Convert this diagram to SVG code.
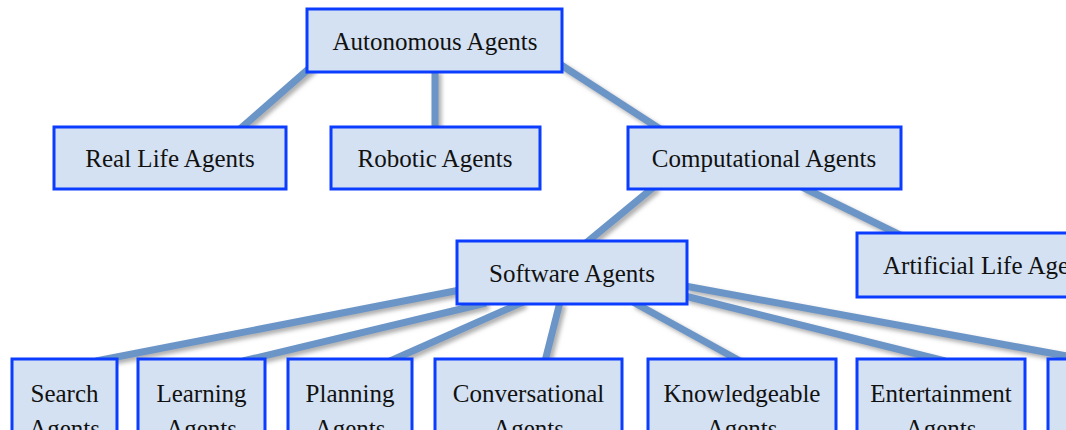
<svg xmlns="http://www.w3.org/2000/svg" width="1066" height="430" viewBox="0 0 1066 430">
<defs>
<filter id="sh" x="-20%" y="-20%" width="140%" height="160%">
<feDropShadow dx="3" dy="3" stdDeviation="2" flood-color="#777" flood-opacity="0.6"/>
</filter>
</defs>
<style>
.box{fill:#d4e1f2;stroke:#0a3dff;stroke-width:3}
.lbl{font-family:"Liberation Serif","Times New Roman",serif;font-size:25px;fill:#111;text-anchor:middle}
.ln{stroke:#6b95c6;stroke-width:7;fill:none;stroke-linecap:butt}
</style>
<rect width="1066" height="430" fill="#fff"/>
<g id="connectors" filter="url(#sh)">
<line class="ln" x1="312" y1="66" x2="240" y2="129"/>
<line class="ln" x1="435" y1="70" x2="435" y2="129"/>
<line class="ln" x1="558" y1="63" x2="660" y2="129"/>
<line class="ln" x1="655" y1="186" x2="586" y2="243"/>
<line class="ln" x1="802" y1="187" x2="900" y2="235"/>
<line class="ln" x1="460" y1="290" x2="96" y2="361"/>
<line class="ln" x1="486" y1="303" x2="243" y2="361"/>
<line class="ln" x1="523" y1="302" x2="390" y2="361"/>
<line class="ln" x1="560" y1="302" x2="545" y2="361"/>
<line class="ln" x1="633" y1="302" x2="740" y2="361"/>
<line class="ln" x1="685" y1="296" x2="945" y2="361"/>
<line class="ln" x1="685" y1="286" x2="1072" y2="357"/>
</g>
<g id="autonomous"><rect class="box" x="307" y="9" width="255" height="63"/><text class="lbl" x="435" y="50">Autonomous Agents</text></g>
<g id="reallife"><rect class="box" x="54" y="127" width="232" height="62"/><text class="lbl" x="170" y="167">Real Life Agents</text></g>
<g id="robotic"><rect class="box" x="331" y="127" width="209" height="62"/><text class="lbl" x="435" y="167">Robotic Agents</text></g>
<g id="computational"><rect class="box" x="628" y="127" width="273" height="62"/><text class="lbl" x="764" y="167">Computational Agents</text></g>
<g id="artificial"><rect class="box" x="857" y="233" width="250" height="64"/><text class="lbl" x="883" y="274" style="text-anchor:start">Artificial Life Agents</text></g>
<g id="software"><rect class="box" x="457" y="241" width="230" height="63"/><text class="lbl" x="572" y="282">Software Agents</text></g>
<g id="search"><rect class="box" x="12" y="359" width="105" height="100"/><text class="lbl" x="64.5" y="402">Search</text><text class="lbl" x="64.5" y="437">Agents</text></g>
<g id="learning"><rect class="box" x="138" y="359" width="127" height="100"/><text class="lbl" x="201.5" y="402">Learning</text><text class="lbl" x="201.5" y="437">Agents</text></g>
<g id="planning"><rect class="box" x="288" y="359" width="124" height="100"/><text class="lbl" x="350" y="402">Planning</text><text class="lbl" x="350" y="437">Agents</text></g>
<g id="conversational"><rect class="box" x="435" y="359" width="187" height="100"/><text class="lbl" x="528.5" y="402">Conversational</text><text class="lbl" x="528.5" y="437">Agents</text></g>
<g id="knowledgeable"><rect class="box" x="648" y="359" width="188" height="100"/><text class="lbl" x="742" y="402">Knowledgeable</text><text class="lbl" x="742" y="437">Agents</text></g>
<g id="entertainment"><rect class="box" x="857" y="359" width="168" height="100"/><text class="lbl" x="941" y="402">Entertainment</text><text class="lbl" x="941" y="437">Agents</text></g>
<g id="more"><rect class="box" x="1048" y="359" width="100" height="100"/></g>
</svg>
